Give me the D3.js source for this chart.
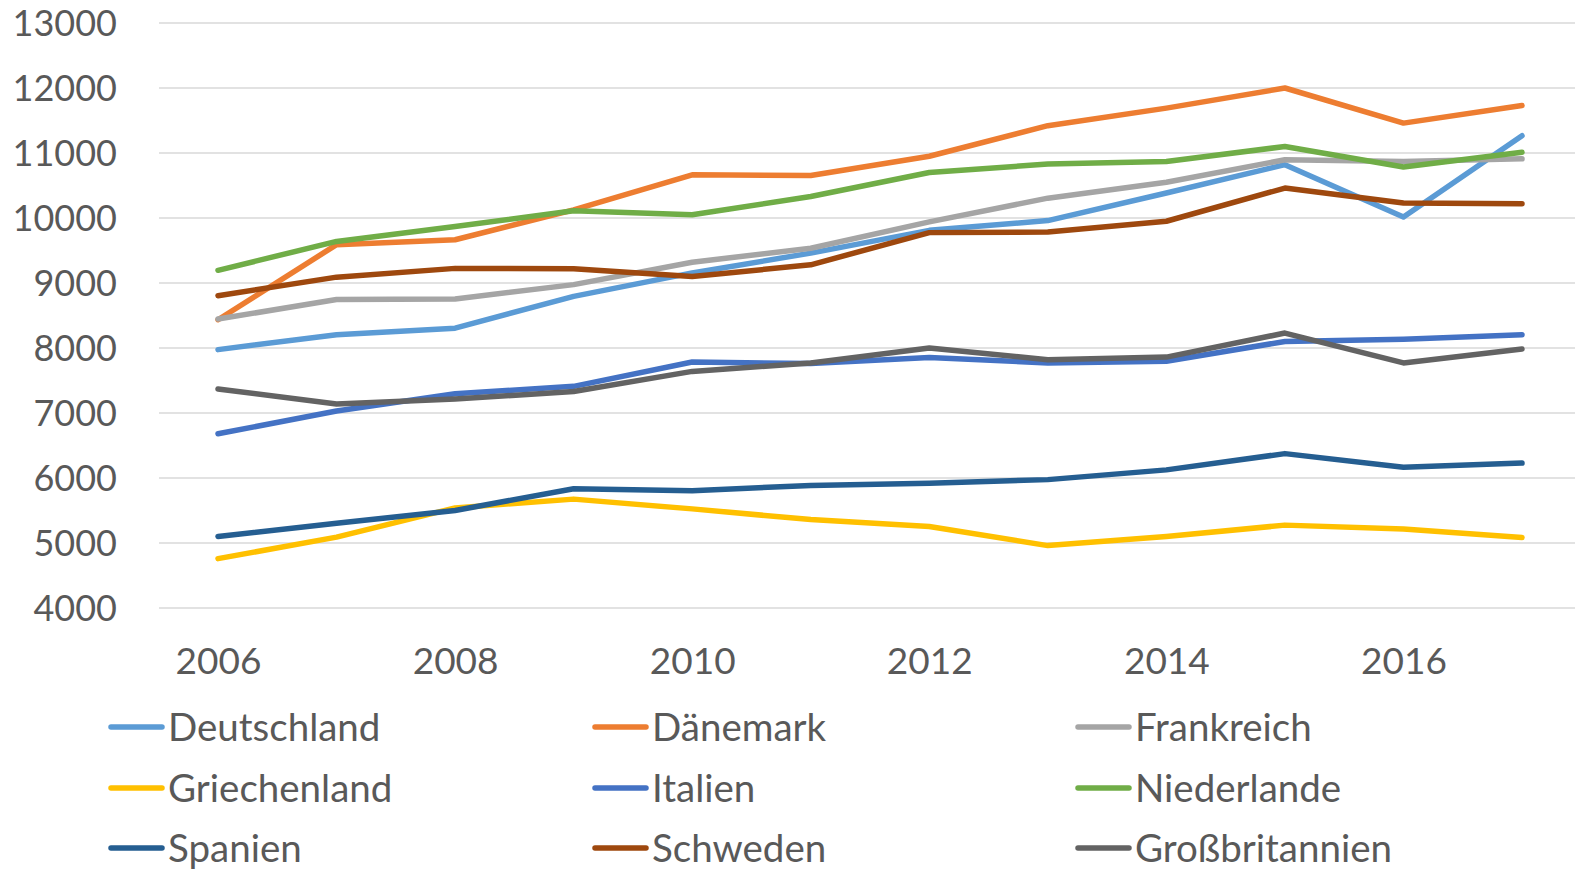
<!DOCTYPE html>
<html>
<head>
<meta charset="utf-8">
<title>Line chart</title>
<script src="https://cdn.jsdelivr.net/npm/d3@7"></script>
<style>
  body { margin: 0; background: #fff; }
  text { font-family: Lato, "Open Sans", sans-serif; fill: #595959; }
</style>
</head>
<body>
<div id="chart"></div>
<script>
var years = [2006, 2007, 2008, 2009, 2010, 2011, 2012, 2013, 2014, 2015, 2016, 2017];
var yTicks = [4000, 5000, 6000, 7000, 8000, 9000, 10000, 11000, 12000, 13000];
var xTicks = [2006, 2008, 2010, 2012, 2014, 2016];

var countries = ["Deutschland", "Dänemark", "Frankreich", "Griechenland", "Italien",
                 "Niederlande", "Spanien", "Schweden", "Großbritannien"];
var colors = ["#5b9bd5", "#ed7d31", "#a5a5a5", "#ffc000", "#4472c4",
              "#70ad47", "#255e91", "#9e480e", "#636363"];

var deutschland    = [7975, 8205, 8305, 8795, 9155, 9460, 9810, 9960, 10385, 10820, 10015, 11265];
var daenemark      = [8435, 9590, 9665, 10125, 10665, 10655, 10950, 11420, 11690, 12000, 11460, 11730];
var frankreich     = [8445, 8745, 8755, 8975, 9320, 9535, 9940, 10305, 10550, 10895, 10870, 10910];
var griechenland   = [4760, 5090, 5540, 5675, 5525, 5360, 5255, 4960, 5100, 5275, 5215, 5085];
var italien        = [6680, 7030, 7295, 7410, 7785, 7760, 7855, 7770, 7795, 8100, 8135, 8205];
var niederlande    = [9195, 9640, 9870, 10110, 10050, 10330, 10700, 10830, 10870, 11100, 10785, 11010];
var spanien        = [5100, 5305, 5500, 5835, 5805, 5885, 5920, 5975, 6125, 6375, 6165, 6230];
var schweden       = [8805, 9090, 9225, 9220, 9100, 9280, 9775, 9785, 9950, 10460, 10230, 10220];
var grossbritannien = [7370, 7140, 7215, 7330, 7640, 7770, 8000, 7820, 7860, 8230, 7770, 7985];

var seriesValues = [deutschland, daenemark, frankreich, griechenland, italien,
                    niederlande, spanien, schweden, grossbritannien];

var width = 1575, height = 869;
var svg = d3.select("#chart").append("svg").attr("width", width).attr("height", height);

var x = d3.scalePoint().domain(years).range([218, 1522]);
var y = d3.scaleLinear().domain([4000, 13000]).range([608, 23]);

// gridlines
svg.append("g").selectAll("line").data(yTicks).enter().append("line")
  .attr("x1", 159).attr("x2", width)
  .attr("y1", function (d) { return y(d); }).attr("y2", function (d) { return y(d); })
  .attr("stroke", "#d9d9d9").attr("stroke-width", 1.5);

// y axis labels
var yAxis = d3.axisLeft(y).tickValues(yTicks).tickSize(0).tickPadding(0).tickFormat(d3.format("d"));
var gy = svg.append("g").attr("transform", "translate(117,0)").call(yAxis);
gy.select(".domain").remove();
gy.selectAll("text").style("font-size", "36px").attr("dy", "0.36em").attr("fill", "#595959");

// x axis labels
var xAxis = d3.axisBottom(x).tickValues(xTicks).tickSize(0).tickPadding(0);
var gx = svg.append("g").attr("transform", "translate(0,648)").call(xAxis);
gx.select(".domain").remove();
gx.selectAll("text").style("font-size", "37px").attr("dy", "0.71em").attr("fill", "#595959");

// lines
var line = d3.line()
  .x(function (d, i) { return x(years[i]); })
  .y(function (d) { return y(d); });

svg.append("g").selectAll("path").data(seriesValues).enter().append("path")
  .attr("d", line)
  .attr("fill", "none")
  .attr("stroke", function (d, i) { return colors[i]; })
  .attr("stroke-width", 5.5)
  .attr("stroke-linecap", "round")
  .attr("stroke-linejoin", "round");

// legend
var colX = [108, 592, 1075];
var rowY = [728, 789, 849];
var legend = svg.append("g").selectAll("g").data(countries).enter().append("g")
  .attr("transform", function (d, i) {
    return "translate(" + colX[i % 3] + "," + rowY[Math.floor(i / 3)] + ")";
  });
legend.append("line")
  .attr("x1", 3).attr("x2", 54).attr("y1", -1).attr("y2", -1)
  .attr("stroke", function (d, i) { return colors[i]; })
  .attr("stroke-width", 5.5).attr("stroke-linecap", "round");
legend.append("text")
  .attr("x", 60).attr("dy", "0.35em")
  .style("font-size", "38.5px")
  .text(function (d) { return d; });
</script>
</body>
</html>
